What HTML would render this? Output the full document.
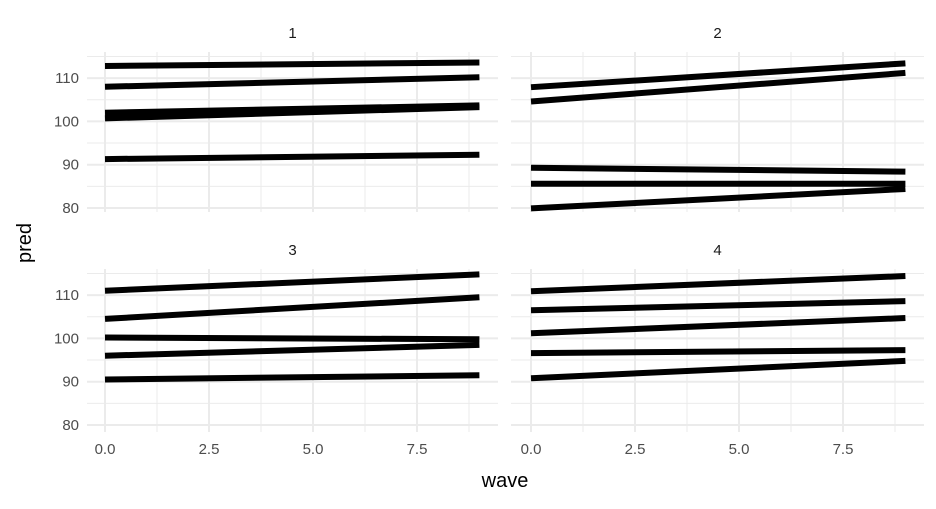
<!DOCTYPE html>
<html><head><meta charset="utf-8"><style>
body{margin:0;background:#fff}
text{font-family:"Liberation Sans",sans-serif}
</style></head><body>
<svg id="chart" width="936" height="504" xmlns="http://www.w3.org/2000/svg"></svg>
<script>
const panelLabels=["1","2","3","4"];
const xTicks=[0,2.5,5,7.5];
const xTickLabels=["0.0","2.5","5.0","7.5"];
const yTicks=[80,90,100,110];
const xStart=[0,0,0,0];
const xEnd=[9,9,9,9];
const startVals1=[112.8,108,100.7,102,91.3];
const endVals1=[113.6,110.2,103.3,103.7,92.3];
const startVals2=[107.9,104.6,89.3,85.6,79.9];
const endVals2=[113.4,111.2,88.4,85.6,84.4];
const startVals3=[111,104.5,100.2,96,90.5];
const endVals3=[114.8,109.5,99.8,98.5,91.5];
const startVals4=[110.9,106.5,101.2,96.6,90.8];
const endVals4=[114.4,108.6,104.7,97.3,94.8];
const startAll=[startVals1,startVals2,startVals3,startVals4];
const endAll=[endVals1,endVals2,endVals3,endVals4];

const NS="http://www.w3.org/2000/svg";
const svg=document.getElementById('chart');
function mk(t,a,p){const e=document.createElementNS(NS,t);for(const k in a)e.setAttribute(k,a[k]);(p||svg).appendChild(e);return e;}
const panels=[{l:87,r:498,top:52,b:212,x0:105,y80:208},{l:511,r:924,top:52,b:212,x0:531,y80:208},
{l:87,r:498,top:269,b:432,x0:105,y80:425},{l:511,r:924,top:269,b:432,x0:531,y80:425}];
const pxPerX=41.6, pxPerY=4.33;
panels.forEach((p,i)=>{
  const g=mk('g',{});
  
  
  const xs=v=>p.x0+v*pxPerX, ys=v=>p.y80-(v-80)*pxPerY;
  // minor grid
  for(let v=1.25;v<=8.75;v+=2.5){mk('line',{x1:xs(v),x2:xs(v),y1:p.top,y2:p.b,stroke:'#ebebeb','stroke-width':1},g);}
  for(let v=85;v<=115;v+=10){const y=ys(v);if(y>p.top)mk('line',{x1:p.l,x2:p.r,y1:y,y2:y,stroke:'#ebebeb','stroke-width':1},g);}
  xTicks.forEach(v=>mk('line',{x1:xs(v),x2:xs(v),y1:p.top,y2:p.b,stroke:'#ebebeb','stroke-width':2},g));
  yTicks.forEach(v=>mk('line',{x1:p.l,x2:p.r,y1:ys(v),y2:ys(v),stroke:'#ebebeb','stroke-width':2},g));
  const t=mk('text',{x:(p.l+p.r)/2,y:p.top-14,'text-anchor':'middle','font-size':15,fill:'#1a1a1a'},g);
  t.textContent=panelLabels[i];
  
  
  if(i%2==0){yTicks.forEach(v=>{const tt=mk('text',{x:p.l-8,y:ys(v)+5,'text-anchor':'end','font-size':15,fill:'#4d4d4d'},g);tt.textContent=v;
    
    });}
  if(i>=2){xTicks.forEach((v,k)=>{const tt=mk('text',{x:xs(v),y:454,'text-anchor':'middle','font-size':15,fill:'#4d4d4d'},g);tt.textContent=xTickLabels[k];
    
    });}
  startAll[i].forEach((s,k)=>{
    const ln=mk('line',{x1:xs(xStart[i]),x2:xs(xEnd[i]),y1:ys(s),y2:ys(endAll[i][k]),stroke:'#000','stroke-width':6},g);
    
    
  });
});
const xl=mk('text',{x:505,y:487,'text-anchor':'middle','font-size':20,fill:'#000'});xl.textContent='wave';


const yl=mk('text',{x:0,y:0,'text-anchor':'middle','font-size':20,fill:'#000',transform:'translate(31,243) rotate(-90)'});yl.textContent='pred';


</script>
</body></html>
